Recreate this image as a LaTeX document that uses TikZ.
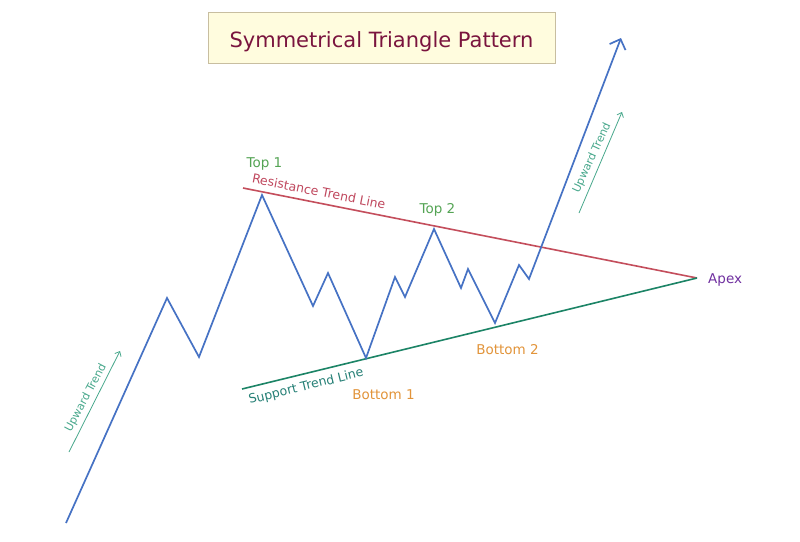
\documentclass[tikz,border=0pt]{standalone}
\usepackage{fontspec}
\setmainfont{DejaVu Sans}
\usetikzlibrary{arrows.meta}
\definecolor{pblue}{RGB}{70,114,196}
\definecolor{resred}{RGB}{196,78,92}
\definecolor{supgreen}{RGB}{28,132,102}
\definecolor{topgreen}{RGB}{84,164,84}
\definecolor{botorange}{RGB}{226,148,58}
\definecolor{apexpurple}{RGB}{112,48,160}
\definecolor{restext}{RGB}{192,72,94}
\definecolor{suptext}{RGB}{38,128,118}
\definecolor{uptext}{RGB}{72,168,140}
\definecolor{titlecol}{RGB}{122,20,62}
\definecolor{titlefill}{RGB}{255,252,222}
\definecolor{titleborder}{RGB}{200,190,160}
\tikzset{
  price/.style={draw=pblue, line width=1.7pt, line join=miter},
  trendline/.style={line width=1.6pt},
  lbl/.style={inner sep=0pt, anchor=base, font=\fontsize{13.5}{15}\selectfont},
  uplbl/.style={inner sep=0pt, font=\fontsize{11}{13}\selectfont, text=uptext},
  uparrow/.style={draw=uptext, line width=0.8pt, -{Straight Barb[length=4pt,width=7pt]}}
}
\begin{document}
\begin{tikzpicture}[x=1pt,y=-1pt]
\useasboundingbox[fill=white] (0,0) rectangle (800,541);
% title
\node[draw=titleborder, fill=titlefill, line width=0.8pt, minimum width=347pt, minimum height=51pt, inner sep=0pt] (title) at (381.5,37.5) {};
\node[inner sep=0pt, anchor=base, text=titlecol, font=\fontsize{21}{24}\selectfont] (titletext) at (381.5,47) {Symmetrical Triangle Pattern};
% trend line end points
\coordinate (rs) at (243,188);
\coordinate (apex) at (697,278);
\coordinate (ss) at (242,389);
\draw[trendline, draw=resred] (rs) -- (apex);
\draw[trendline, draw=supgreen] (ss) -- (apex);
% price path vertices
\coordinate (p0) at (66,523);
\coordinate (p1) at (167,298);
\coordinate (p2) at (199,357);
\coordinate (top1) at (262,195);
\coordinate (p4) at (313,306);
\coordinate (p5) at (328,273);
\coordinate (bot1) at (366,358);
\coordinate (p7) at (395,277);
\coordinate (p8) at (405,297);
\coordinate (top2) at (434,229);
\coordinate (p10) at (461,288);
\coordinate (p11) at (468,269);
\coordinate (bot2) at (495,323);
\coordinate (p13) at (519,265);
\coordinate (p14) at (529,279);
\coordinate (pend) at (621,38);
\draw[price, -{Straight Barb[length=8.5pt,width=17pt,line width=1.7pt]}]
  (p0) -- (p1) -- (p2) -- (top1) -- (p4) -- (p5) -- (bot1) -- (p7) -- (p8)
  -- (top2) -- (p10) -- (p11) -- (bot2) -- (p13) -- (p14) -- (pend);
% labels
\node[lbl, text=topgreen] (ltop1) at (264.5,167) {Top 1};
\node[lbl, text=topgreen] (ltop2) at (437.5,213) {Top 2};
\node[lbl, text=botorange] (lbot1) at (383.5,399) {Bottom 1};
\node[lbl, text=botorange] (lbot2) at (507.5,354) {Bottom 2};
\node[lbl, text=apexpurple, anchor=base west] (lapex) at (708,283) {Apex};
\node[inner sep=0pt, anchor=base, rotate=-11.2, text=restext, font=\fontsize{12.5}{14}\selectfont] (lres) at (318,196) {Resistance Trend Line};
\node[inner sep=0pt, anchor=base, rotate=13.7, text=suptext, font=\fontsize{12.5}{14}\selectfont] (lsup) at (307,390) {Support Trend Line};
% upward trend arrows
\coordinate (ua1s) at (69,452);
\coordinate (ua1e) at (120,351);
\draw[uparrow] (ua1s) -- (ua1e);
\node[uplbl, rotate=62] (lup1) at (86,398) {Upward Trend};
\coordinate (ua2s) at (579,213);
\coordinate (ua2e) at (622,112);
\draw[uparrow] (ua2s) -- (ua2e);
\node[uplbl, rotate=65] (lup2) at (592,158) {Upward Trend};
\end{tikzpicture}
\end{document}
